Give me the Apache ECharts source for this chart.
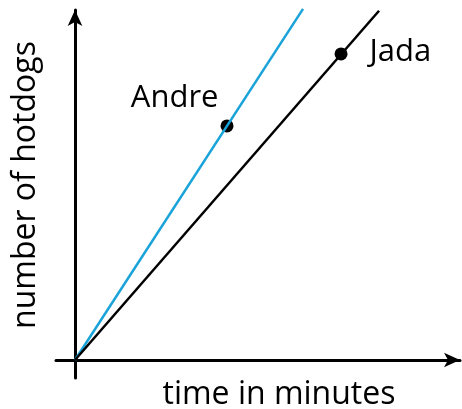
<!DOCTYPE html>
<html>
<head>
<meta charset="utf-8">
<script src="https://cdn.jsdelivr.net/npm/echarts@6/dist/echarts.min.js"></script>
<style>
  html, body { margin: 0; padding: 0; background: #fff; }
  #chart { width: 462px; height: 409px; }
</style>
</head>
<body>
<div id="chart"></div>
<script>
  // lines through the origin (time, hotdogs), arbitrary units
  const andreLine = [[0, 0], [12, 19.5]];
  const jadaLine = [[0, 0], [16, 19.4]];
  // the two marked points
  const pointNames = ['Andre', 'Jada'];
  const pointX = [8, 14];
  const pointY = [13, 17];

  const font = '"Open Sans", "Noto Sans", sans-serif';

  let chart = echarts.init(document.getElementById('chart'));

  let axisLine = {
    onZero: true,
    symbol: ['none', 'arrow'],
    symbolSize: [11, 16],
    lineStyle: { color: '#000', width: 3 }
  };

  let option = {
    animation: false,
    grid: { left: 56, right: 2, top: 10, bottom: 31, outerBoundsMode: 'none' },
    xAxis: {
      type: 'value',
      min: -1,
      max: 20.26,
      name: 'time in minutes',
      nameLocation: 'middle',
      nameGap: 1,
      nameTextStyle: { fontFamily: font, fontSize: 32, color: '#000', padding: [0, 0, 0, 42] },
      axisLine: axisLine,
      axisTick: { show: false },
      axisLabel: { show: false },
      splitLine: { show: false }
    },
    yAxis: {
      type: 'value',
      min: -1,
      max: 19.44,
      name: 'number of hotdogs',
      nameLocation: 'middle',
      nameGap: 14,
      nameTextStyle: { fontFamily: font, fontSize: 32, color: '#000', padding: [0, 0, 0, 18] },
      axisLine: axisLine,
      axisTick: { show: false },
      axisLabel: { show: false },
      splitLine: { show: false }
    },
    series: [
      {
        name: 'Andre',
        type: 'line',
        data: andreLine,
        showSymbol: false,
        clip: false,
        lineStyle: { color: '#1aa3d9', width: 2.5 }
      },
      {
        name: 'Jada',
        type: 'line',
        data: jadaLine,
        showSymbol: false,
        clip: false,
        lineStyle: { color: '#000', width: 2.5 }
      },
      {
        type: 'scatter',
        symbolSize: 13,
        itemStyle: { color: '#000', opacity: 1 },
        data: pointNames.map((n, i) => ({
          name: n,
          value: [pointX[i], pointY[i]],
          label: i == 0
            ? { position: 'left', distance: 2, offset: [0, -28] }
            : { position: 'right', distance: 22, offset: [0, -2] }
        })),
        label: {
          show: true,
          formatter: '{b}',
          fontFamily: font,
          fontSize: 31,
          color: '#000'
        }
      }
    ]
  };

  chart.setOption(option);
</script>
</body>
</html>
